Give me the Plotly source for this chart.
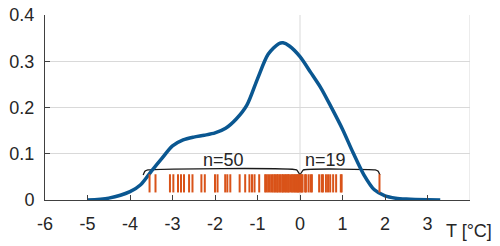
import plotly.graph_objects as go

# KDE curve
curve_x = [-5.0, -4.5, -4.0, -3.75, -3.5, -3.25, -3.0, -2.75, -2.5, -2.25, -2.0, -1.75,
           -1.5, -1.25, -1.0, -0.75, -0.5, -0.4, -0.25, 0.0, 0.25, 0.5, 0.75, 1.0, 1.25,
           1.5, 1.75, 2.0, 2.25, 2.5, 3.0, 3.3]
curve_y = [0.0, 0.004, 0.018, 0.033, 0.062, 0.090, 0.117, 0.130, 0.136, 0.140, 0.145, 0.155,
           0.175, 0.205, 0.262, 0.315, 0.338, 0.340, 0.333, 0.310, 0.276, 0.241, 0.198, 0.153, 0.102,
           0.055, 0.022, 0.009, 0.004, 0.002, 0.0003, 0.0]

# Rug observations
rug_below_zero = [-3.54, -3.40, -3.06, -2.98, -2.87, -2.80, -2.73, -2.61, -2.53, -2.32,
                  -2.24, -2.00, -1.94, -1.76, -1.71, -1.64, -1.42, -1.29, -1.19, -1.13,
                  -1.07, -0.96, -0.82, -0.79, -0.75, -0.71, -0.67, -0.64, -0.60, -0.58,
                  -0.54, -0.52, -0.48, -0.46, -0.42, -0.40, -0.36, -0.34, -0.31, -0.28,
                  -0.26, -0.22, -0.19, -0.16, -0.13, -0.11, -0.08, -0.06, -0.04, -0.02]
rug_above_zero = [0.02, 0.04, 0.06, 0.12, 0.14, 0.20, 0.25, 0.28, 0.45, 0.51, 0.54, 0.61,
                  0.66, 0.71, 0.78, 0.85, 0.96, 0.98, 1.87]

x_ticks = [-6, -5, -4, -3, -2, -1, 0, 1, 2, 3]
x_tick_labels = ["-6", "-5", "-4", "-3", "-2", "-1", "0", "1", "2", "3"]
y_ticks = [0, 0.1, 0.2, 0.3, 0.4]
y_tick_labels = ["0", "0.1", "0.2", "0.3", "0.4"]

# Brace outline
brace_x = [-3.69, -3.65, -3.58, -0.08, 0.0, 0.08, 1.77, 1.84, 1.88]
brace_y = [0.054, 0.062, 0.065, 0.065, 0.055, 0.065, 0.065, 0.062, 0.054]

BLUE = "#0a5791"
ORANGE = "#D95319"
FONT = "Liberation Sans, Arial, sans-serif"
TXT = "#262626"

fig = go.Figure()

fig.add_trace(go.Scatter(x=brace_x, y=brace_y, mode="lines",
                         line=dict(color="#1a1a1a", width=1.3, shape="spline", smoothing=0.4),
                         hoverinfo="skip", showlegend=False))

fig.add_trace(go.Scatter(x=curve_x, y=curve_y, mode="lines",
                         line=dict(color=BLUE, width=3.5, shape="spline", smoothing=0.8),
                         showlegend=False))

rug = rug_below_zero + rug_above_zero
fig.add_trace(go.Scatter(x=rug, y=[0.036] * len(rug), mode="markers",
                         marker=dict(symbol="line-ns", size=13,
                                     line=dict(color=ORANGE, width=2)),
                         showlegend=False))

for xv in [0, 4]:
    fig.add_shape(type="line", x0=xv, x1=xv, y0=0, y1=0.4, xref="x", yref="y",
                  line=dict(color="#d9d9d9", width=1), layer="below")

fig.add_annotation(x=-1.79, y=0.087, text="n=%d" % len(rug_below_zero), showarrow=False,
                   font=dict(family=FONT, size=18, color=TXT))
fig.add_annotation(x=0.59, y=0.087, text="n=%d" % len(rug_above_zero), showarrow=False,
                   font=dict(family=FONT, size=18, color=TXT))
fig.add_annotation(x=0.9976, y=-0.165, xref="paper", yref="paper", text="T [°C]",
                   showarrow=False, xanchor="center", yanchor="middle",
                   font=dict(family=FONT, size=18, color=TXT))

fig.update_layout(
    width=500, height=246,
    margin=dict(l=45, r=30, t=15, b=46, autoexpand=False),
    paper_bgcolor="white", plot_bgcolor="white",
    font=dict(family=FONT, size=18, color=TXT),
    xaxis=dict(range=[-6, 4], tickvals=x_ticks, ticktext=x_tick_labels,
               showgrid=False, zeroline=False, showline=True, linecolor="#404040",
               linewidth=1, ticks="inside", ticklen=5, tickcolor="#404040",
               ticklabelstandoff=7, automargin=False),
    yaxis=dict(range=[0, 0.4], tickvals=y_ticks, ticktext=y_tick_labels,
               showgrid=True, gridcolor="#d9d9d9", gridwidth=1, zeroline=False,
               showline=True, linecolor="#404040", linewidth=1, ticks="inside",
               ticklen=5, tickcolor="#404040", ticklabelstandoff=6, automargin=False),
)

fig.write_html("out.html", config={"displayModeBar": False},
               post_script="document.body.style.margin='0';document.body.style.overflow='hidden';")
